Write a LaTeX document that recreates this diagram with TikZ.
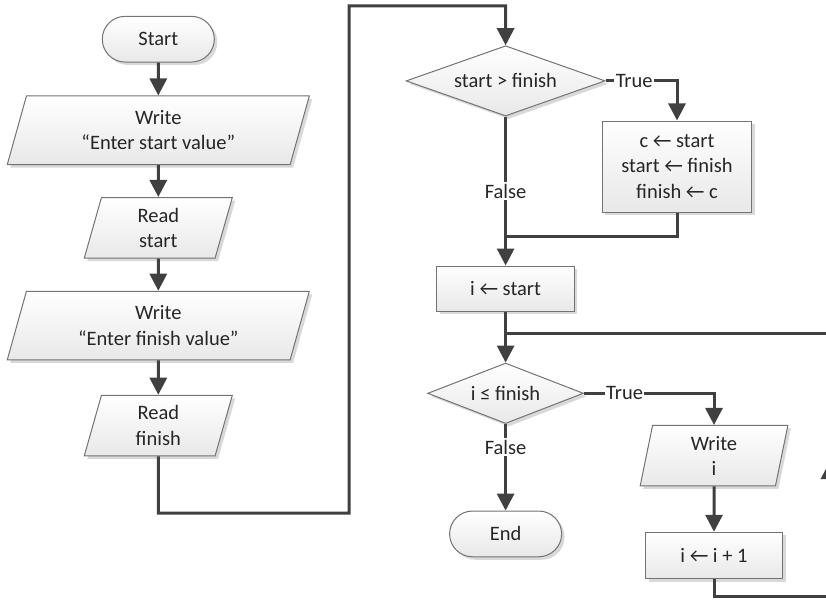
\documentclass[tikz,border=0pt]{standalone}
\usepackage{fontspec}
\setmainfont{Carlito}
\usetikzlibrary{arrows.meta,shapes.geometric,shadows}
\begin{document}
\begin{tikzpicture}[x=1pt,y=-1pt,
  font=\fontsize{20.5}{25.5}\selectfont,
  base/.style={draw=black!55, line width=1pt, top color=white, bottom color=black!9,
    text=black!85, align=center, inner sep=0pt,
    drop shadow={shadow xshift=3pt, shadow yshift=-3pt, fill=black!15, opacity=1}},
  term/.style={base, rectangle, rounded corners=22.8pt, minimum width=112pt, minimum height=45.7pt},
  proc/.style={base, rectangle},
  io/.style={base, trapezium, trapezium stretches body},
  dec/.style={base, diamond, aspect=2.8},
  wire/.style={draw=black!75, line width=3pt},
  conn/.style={wire, -{Triangle[length=17pt,width=17pt]}},
  lab/.style={fill=white, inner sep=1.5pt, text=black!85}
]
\useasboundingbox (0,0) rectangle (826,607);
\clip (0,0) rectangle (826,607);

% left column
\node[term] (start) at (158.3,39.2) {Start};
\node[io, minimum width=302pt, minimum height=68.5pt,
  trapezium left angle=64.3, trapezium right angle=115.7] (w1) at (158.3,130.25) {Write\\“Enter start value”};
\node[io, minimum width=148pt, minimum height=60.5pt,
  trapezium left angle=66.7, trapezium right angle=113.3] (r1) at (158.3,227.75) {Read\\start};
\node[io, minimum width=302pt, minimum height=68.5pt,
  trapezium left angle=64.3, trapezium right angle=115.7] (w2) at (158.3,325.5) {Write\\“Enter finish value”};
\node[io, minimum width=148pt, minimum height=60.5pt,
  trapezium left angle=66.7, trapezium right angle=113.3] (r2) at (158.3,425.5) {Read\\finish};

% main column
\node[dec, minimum width=199pt, minimum height=70.3pt] (d1) at (505.6,80.9) {start > finish};
\node[proc, minimum width=149.4pt, minimum height=91pt] (asg) at (677,166.5) {c ← start\\start ← finish\\finish ← c};
\node[proc, minimum width=137.6pt, minimum height=45pt] (ist) at (505.6,288.5) {i ← start};
\node[dec, minimum width=155.8pt, minimum height=60.5pt] (d2) at (505.6,393.3) {i ≤ finish};
\node[term] (endn) at (505.6,533.9) {End};
\node[io, minimum width=147.7pt, minimum height=60.5pt,
  trapezium left angle=72.6, trapezium right angle=107.4] (wi) at (714,455.7) {Write\\i};
\node[proc, minimum width=137pt, minimum height=46.7pt] (inc) at (714,555.6) {i ← i + 1};

% junction coordinates
\coordinate (j1) at (158.3,513);
\coordinate (j2) at (349,513);
\coordinate (j3) at (349,5.8);
\coordinate (j4) at (505.6,5.8);
\coordinate (m1) at (505.6,236);
\coordinate (l1) at (829.5,596.7);
\coordinate (l2) at (829.5,333.7);
\coordinate (l3) at (505.6,333.7);
\coordinate (lm) at (829.5,462);

% connectors
\draw[conn] (start.south) -- (w1.north);
\draw[conn] (w1.south) -- (r1.north);
\draw[conn] (r1.south) -- (w2.north);
\draw[conn] (w2.south) -- (r2.north);
\draw[conn] (r2.south) -- (j1) -- (j2) -- (j3) -- (j4) -- (d1.north);
\draw[conn] (d1.east) -| node[lab, pos=0.2] {True} (asg.north);
\draw[conn] (d1.south) -- node[lab, pos=0.5] {False} (ist.north);
\draw[wire] (asg.south) |- (m1);
\draw[conn] (ist.south) -- (d2.north);
\draw[conn] (d2.east) -| node[lab, pos=0.156] {True} (wi.north);
\draw[conn] (d2.south) -- node[lab, pos=0.265] {False} (endn.north);
\draw[conn] (wi.south) -- (inc.north);
\draw[wire] (inc.south) |- (l1) -- (l2) -- (l3);
\draw[conn] (l1) -- (lm);
\end{tikzpicture}
\end{document}
